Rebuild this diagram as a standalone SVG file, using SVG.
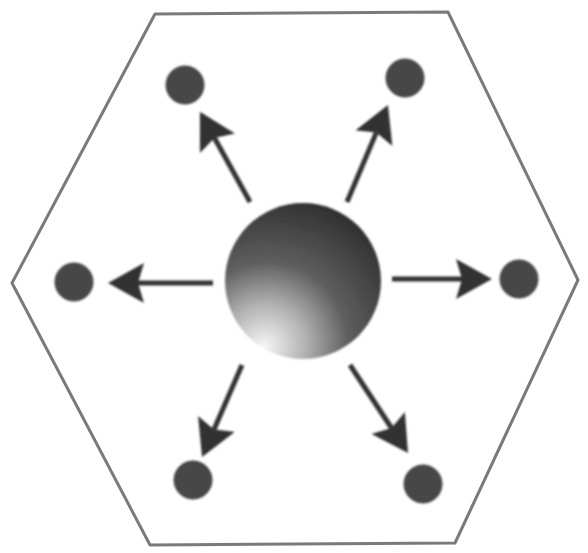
<svg xmlns="http://www.w3.org/2000/svg" width="588" height="553" viewBox="0 0 588 553">
  <defs>
    <radialGradient id="sphereGrad" cx="0.28" cy="0.88" r="0.95" fx="0.25" fy="0.92">
      <stop offset="0" stop-color="#f6f6f6"/>
      <stop offset="0.28" stop-color="#b0b0b0"/>
      <stop offset="0.55" stop-color="#5e5e5e"/>
      <stop offset="0.85" stop-color="#3e3e3e"/>
      <stop offset="1" stop-color="#2e2e2e"/>
    </radialGradient>
    <marker id="arrow" viewBox="0 0 36 40" refX="6" refY="20" markerWidth="36" markerHeight="40" markerUnits="userSpaceOnUse" orient="auto">
      <path d="M0,0 L36,20 L0,40 L6,20 Z" fill="#333333"/>
    </marker>
    <filter id="soft" x="-20%" y="-20%" width="140%" height="140%">
      <feGaussianBlur stdDeviation="1"/>
    </filter>
  </defs>
  <style>
    .hex { fill: #ffffff; stroke: #7a7a7a; stroke-width: 3; stroke-linejoin: round; }
    .dot { fill: #474747; stroke: #3c3c3c; stroke-width: 1; }
    .conn { stroke: #333333; stroke-width: 5; fill: none; marker-end: url(#arrow); }
  </style>
  <rect width="588" height="553" fill="#ffffff"/>
  <g id="hexagon">
    <polygon class="hex" points="155,14 448,12 578,280 455,543 150,545 12,283"/>
  </g>
  <g id="connectors" filter="url(#soft)">
    <line class="conn" x1="250" y1="202" x2="214.5" y2="138"/>
    <line class="conn" x1="347" y1="202" x2="376.3" y2="132.6"/>
    <line class="conn" x1="213" y1="283" x2="138" y2="283"/>
    <line class="conn" x1="392" y1="279" x2="462" y2="279"/>
    <line class="conn" x1="242" y1="365" x2="214" y2="429.5"/>
    <line class="conn" x1="350" y1="365" x2="391.5" y2="428"/>
  </g>
  <g id="center" filter="url(#soft)">
    <circle cx="303" cy="281" r="78" fill="url(#sphereGrad)"/>
  </g>
  <g id="dot-top-left" filter="url(#soft)"><circle class="dot" cx="185" cy="85" r="19"/></g>
  <g id="dot-top-right" filter="url(#soft)"><circle class="dot" cx="405" cy="78" r="19"/></g>
  <g id="dot-left" filter="url(#soft)"><circle class="dot" cx="74" cy="282" r="19"/></g>
  <g id="dot-right" filter="url(#soft)"><circle class="dot" cx="519" cy="279" r="19"/></g>
  <g id="dot-bottom-left" filter="url(#soft)"><circle class="dot" cx="193" cy="480" r="19"/></g>
  <g id="dot-bottom-right" filter="url(#soft)"><circle class="dot" cx="423" cy="484" r="19"/></g>
</svg>
